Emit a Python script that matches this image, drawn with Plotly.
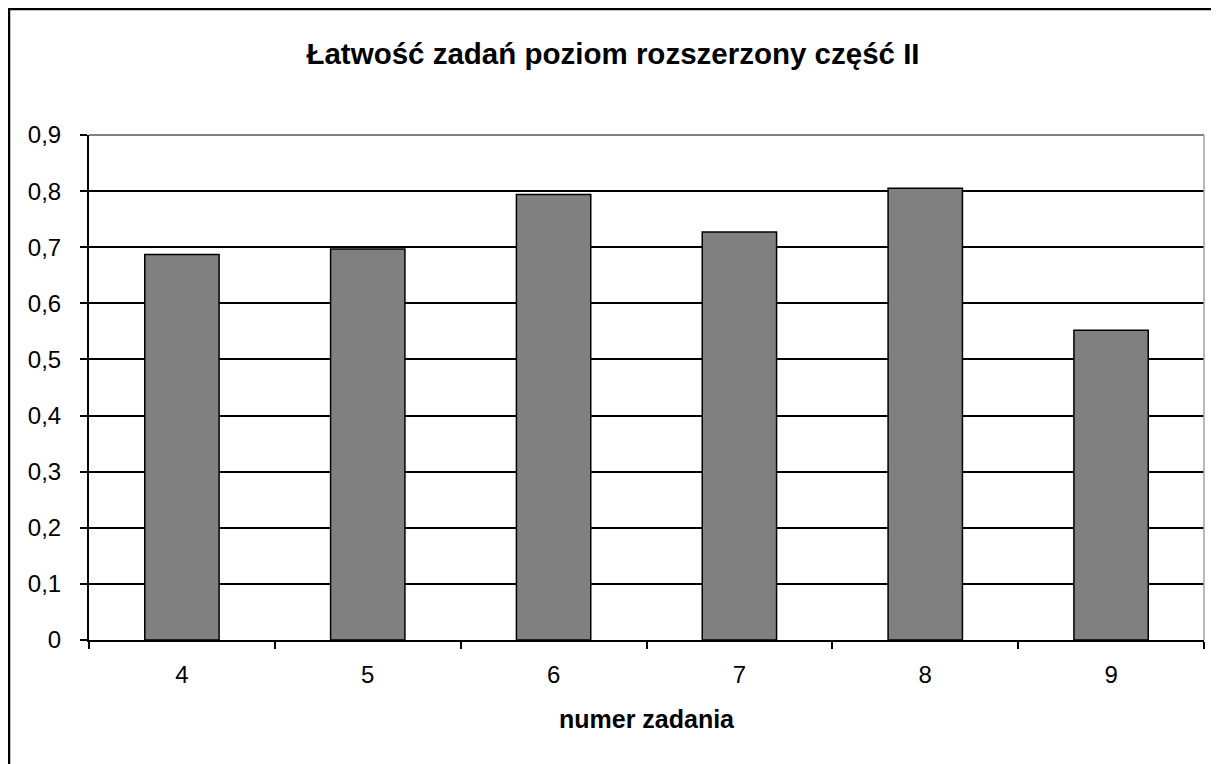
import plotly.graph_objects as go

categories = ["4", "5", "6", "7", "8", "9"]
values = [0.687, 0.697, 0.794, 0.727, 0.805, 0.552]
y_tickvals = [0, 0.1, 0.2, 0.3, 0.4, 0.5, 0.6, 0.7, 0.8, 0.9]
y_ticktext = ["0", "0,1", "0,2", "0,3", "0,4", "0,5", "0,6", "0,7", "0,8", "0,9"]

FONT = "Liberation Sans, Arial, sans-serif"
W, H = 1211, 756
ML, MR, MT, MB = 81, 15, 127, 124
PW, PH = W - ML - MR, H - MT - MB

fig = go.Figure()
fig.add_trace(go.Bar(
    x=categories, y=values,
    marker=dict(color="#808080", line=dict(color="black", width=1.5)),
    width=0.4,
))

fig.update_layout(
    width=W, height=H,
    paper_bgcolor="white", plot_bgcolor="white",
    margin=dict(l=ML, r=MR, t=MT, b=MB),
    showlegend=False,
    separators=", ",
    title=dict(
        text="<b>Łatwość zadań poziom rozszerzony część II</b>",
        font=dict(family=FONT, size=29.5, color="black"),
        x=(613 - 8) / W, xanchor="center", xref="container",
        y=1 - 46 / H, yanchor="middle", yref="container",
    ),
    font=dict(family=FONT, color="black"),
)

fig.update_xaxes(
    type="category",
    tickson="boundaries",
    ticks="outside", ticklen=7, tickwidth=1.5, tickcolor="black",
    showline=True, linecolor="black", linewidth=2,
    showgrid=False,
    tickfont=dict(family=FONT, size=24, color="black"),
    ticklabelstandoff=12,
    title=dict(text="<b>numer zadania</b>", font=dict(family=FONT, size=25, color="black"), standoff=24),
)

fig.update_yaxes(
    range=[0, 0.9],
    tickvals=y_tickvals, ticktext=y_ticktext,
    ticks="outside", ticklen=7, tickwidth=1.5, tickcolor="black",
    showline=True, linecolor="black", linewidth=2,
    showgrid=True, gridcolor="black", gridwidth=1.5,
    zeroline=False,
    tickfont=dict(family=FONT, size=24, color="black"),
    ticklabelstandoff=14,
)

# plot-area top and right border (gray)
fig.add_shape(type="line", xref="paper", yref="paper", x0=0, x1=1, y0=1, y1=1,
              line=dict(color="#808080", width=2), layer="above")
fig.add_shape(type="line", xref="paper", yref="paper", x0=1, x1=1, y0=0, y1=1,
              line=dict(color="#a0a0a0", width=1.5), layer="above")

# outer chart border (left and top visible)
fig.add_shape(type="rect", xref="paper", yref="paper",
              x0=(1 - ML) / PW, x1=1.2, y0=(H - MB - 1) / PH, y1=-0.4,
              line=dict(color="black", width=2.5), layer="above")

fig.write_html("out.html")
